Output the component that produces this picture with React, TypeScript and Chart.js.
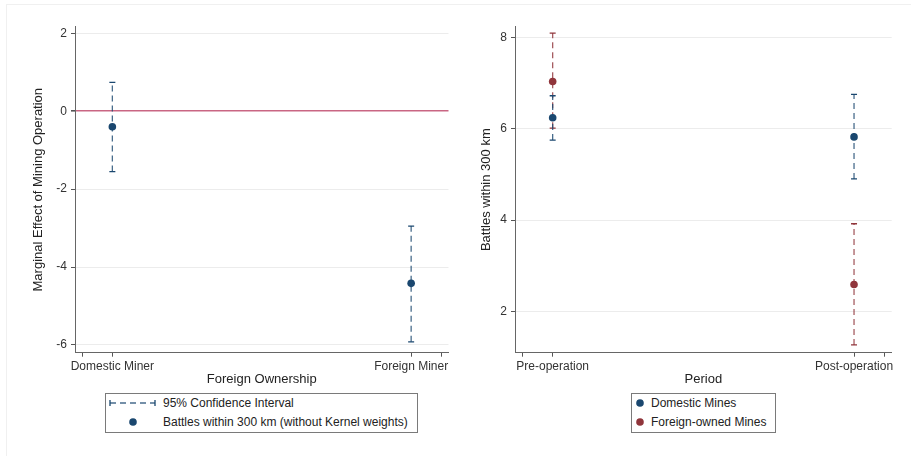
import React, { useEffect, useRef } from 'react';
import { Chart, registerables } from 'chart.js';

Chart.register(...registerables);

const FONT = '"Liberation Sans", Arial, Helvetica, sans-serif';
const NAVY = '#1a476f';
const NAVY_LINE = 'rgba(26,71,111,0.8)';
const MAROON = '#90353b';
const MAROON_LINE = 'rgba(144,53,59,0.8)';
const ZERO_LINE = '#c96683';

// ---- Left panel data ----
const leftCategories = ['Domestic Miner', 'Foreign Miner'];
const leftPositions = [0, 1];
const leftEstimates = [-0.4, -4.42];
const leftLower = [-1.55, -5.92];
const leftUpper = [0.74, -2.95];
const leftYTicks = [-6, -4, -2, 0, 2];
const leftXTicks = [-0.1, 0, 1, 1.1];

// ---- Right panel data ----
const rightCategories = ['Pre-operation', 'Post-operation'];
const rightPositions = [0, 1];
const domesticEstimates = [6.24, 5.82];
const domesticLower = [5.75, 4.9];
const domesticUpper = [6.72, 6.75];
const foreignEstimates = [7.03, 2.59];
const foreignLower = [6.01, 1.27];
const foreignUpper = [8.09, 3.92];
const rightYTicks = [2, 4, 6, 8];
const rightXTicks = [-0.1, 0, 1, 1.1];

function ciDatasets(positions: number[], lower: number[], upper: number[], lineColor: string, capColor: string) {
  return positions.map((x, i) => ({
    type: 'scatter' as const,
    showLine: true,
    data: [
      { x, y: lower[i] },
      { x, y: upper[i] },
    ],
    borderColor: lineColor,
    borderWidth: 1.3,
    borderDash: [6, 4],
    pointStyle: 'line' as const,
    pointRadius: 3,
    pointBorderColor: capColor,
    pointBorderWidth: 1.3,
    pointBackgroundColor: capColor,
    order: 2,
  }));
}

function pointDataset(positions: number[], est: number[], color: string) {
  return {
    type: 'scatter' as const,
    showLine: false,
    data: positions.map((x, i) => ({ x, y: est[i] })),
    pointRadius: 3.8,
    pointBackgroundColor: color,
    pointBorderColor: color,
    pointBorderWidth: 0,
    order: 0,
  };
}

function makeOptions(p: {
  categories: string[];
  positions: number[];
  xTicks: number[];
  yTicks: number[];
  yMin: number;
  yMax: number;
  xTitle: string;
  yTitle: string;
  yAxisWidth: number;
  xAxisHeight: number;
  yTitlePad: number;
  padding: { top: number; right: number; left: number; bottom: number };
  zeroLine: boolean;
}) {
  return {
    responsive: false,
    animation: false as const,
    events: [] as any[],
    layout: { padding: p.padding },
    plugins: { legend: { display: false }, tooltip: { enabled: false } },
    scales: {
      x: {
        type: 'linear' as const,
        min: -0.125,
        max: 1.125,
        afterBuildTicks: (s: any) => {
          s.ticks = p.xTicks.map((v) => ({ value: v }));
        },
        afterFit: (s: any) => {
          s.height = p.xAxisHeight;
        },
        ticks: {
          autoSkip: false,
          maxRotation: 0,
          padding: 3,
          color: '#333',
          font: { size: 12, family: FONT },
          callback: (v: any) => {
            const i = p.positions.indexOf(Number(v));
            return i >= 0 ? p.categories[i] : '';
          },
        },
        grid: { drawOnChartArea: false, tickLength: 4, tickColor: '#555', color: '#555' },
        border: { color: '#666', width: 1 },
        title: {
          display: true,
          text: p.xTitle,
          color: '#222',
          font: { size: 13, family: FONT },
          padding: { top: 0, bottom: 3.2 },
        },
      },
      y: {
        type: 'linear' as const,
        min: p.yMin,
        max: p.yMax,
        afterBuildTicks: (s: any) => {
          s.ticks = p.yTicks.map((v) => ({ value: v }));
        },
        afterFit: (s: any) => {
          s.width = p.yAxisWidth;
        },
        ticks: {
          padding: 4,
          color: '#333',
          font: { size: 12, family: FONT },
        },
        grid: {
          tickLength: 4,
          tickColor: '#555',
          color: (ctx: any) => (p.zeroLine && ctx.tick && ctx.tick.value === 0 ? ZERO_LINE : '#ececec'),
          lineWidth: (ctx: any) => (p.zeroLine && ctx.tick && ctx.tick.value === 0 ? 1.6 : 1),
        },
        border: { color: '#666', width: 1 },
        title: {
          display: true,
          text: p.yTitle,
          color: '#222',
          font: { size: 13, family: FONT },
          padding: { top: p.yTitlePad, bottom: 0 },
        },
      },
    },
  };
}

function LeftChart() {
  const ref = useRef<HTMLCanvasElement | null>(null);
  useEffect(() => {
    if (!ref.current) return;
    const chart = new Chart(ref.current, {
      type: 'scatter',
      data: {
        datasets: [
          pointDataset(leftPositions, leftEstimates, NAVY),
          ...ciDatasets(leftPositions, leftLower, leftUpper, NAVY_LINE, NAVY),
        ] as any,
      },
      options: makeOptions({
        categories: leftCategories,
        positions: leftPositions,
        xTicks: leftXTicks,
        yTicks: leftYTicks,
        yMin: -6.2,
        yMax: 2.17,
        xTitle: 'Foreign Ownership',
        yTitle: 'Marginal Effect of Mining Operation',
        yAxisWidth: 75,
        xAxisHeight: 37.3,
        yTitlePad: 30.7,
        padding: { top: 26.7, right: 6.5, left: 0, bottom: 0 },
        zeroLine: true,
      }) as any,
    });
    return () => chart.destroy();
  }, []);
  return (
    <canvas
      ref={ref}
      width={455}
      height={390}
      style={{ position: 'absolute', left: 0, top: 0, width: 455, height: 390 }}
    />
  );
}

function RightChart() {
  const ref = useRef<HTMLCanvasElement | null>(null);
  useEffect(() => {
    if (!ref.current) return;
    const chart = new Chart(ref.current, {
      type: 'scatter',
      data: {
        datasets: [
          pointDataset(rightPositions, domesticEstimates, NAVY),
          pointDataset(rightPositions, foreignEstimates, MAROON),
          ...ciDatasets(rightPositions, domesticLower, domesticUpper, NAVY_LINE, NAVY),
          ...ciDatasets(rightPositions, foreignLower, foreignUpper, MAROON_LINE, MAROON),
        ] as any,
      },
      options: makeOptions({
        categories: rightCategories,
        positions: rightPositions,
        xTicks: rightXTicks,
        yTicks: rightYTicks,
        yMin: 1.1,
        yMax: 8.23,
        xTitle: 'Period',
        yTitle: 'Battles within 300 km',
        yAxisWidth: 60,
        xAxisHeight: 37.3,
        yTitlePad: 23.2,
        padding: { top: 26.7, right: 19.3, left: 0, bottom: 0 },
        zeroLine: false,
      }) as any,
    });
    return () => chart.destroy();
  }, []);
  return (
    <canvas
      ref={ref}
      width={456}
      height={390}
      style={{ position: 'absolute', left: 455, top: 0, width: 456, height: 390 }}
    />
  );
}

const textStyle: React.CSSProperties = {
  position: 'absolute',
  fontFamily: FONT,
  fontSize: 12,
  lineHeight: '14px',
  color: '#222',
  whiteSpace: 'nowrap',
};

function LeftLegend() {
  return (
    <div
      style={{
        position: 'absolute',
        left: 105,
        top: 393,
        width: 313,
        height: 40,
        boxSizing: 'border-box',
        border: '1px solid #7a7a7a',
        background: '#fff',
      }}
    >
      <svg width={50} height={12} style={{ position: 'absolute', left: 3, top: 3 }}>
        <line x1={1} y1={6} x2={46} y2={6} stroke={NAVY_LINE} strokeWidth={1.3} strokeDasharray="6 4" />
        <line x1={1} y1={3} x2={1} y2={9} stroke={NAVY} strokeWidth={1.3} />
        <line x1={46} y1={3} x2={46} y2={9} stroke={NAVY} strokeWidth={1.3} />
      </svg>
      <div style={{ ...textStyle, left: 57, top: 2 }}>95% Confidence Interval</div>
      <svg width={10} height={10} style={{ position: 'absolute', left: 22, top: 23 }}>
        <circle cx={5} cy={5} r={3.8} fill={NAVY} />
      </svg>
      <div style={{ ...textStyle, left: 57, top: 21 }}>Battles within 300 km (without Kernel weights)</div>
    </div>
  );
}

function RightLegend() {
  return (
    <div
      style={{
        position: 'absolute',
        left: 631,
        top: 393,
        width: 145,
        height: 40,
        boxSizing: 'border-box',
        border: '1px solid #7a7a7a',
        background: '#fff',
      }}
    >
      <svg width={10} height={10} style={{ position: 'absolute', left: 2.5, top: 4 }}>
        <circle cx={5} cy={5} r={3.8} fill={NAVY} />
      </svg>
      <div style={{ ...textStyle, left: 19, top: 2 }}>Domestic Mines</div>
      <svg width={10} height={10} style={{ position: 'absolute', left: 2.5, top: 23 }}>
        <circle cx={5} cy={5} r={3.8} fill={MAROON} />
      </svg>
      <div style={{ ...textStyle, left: 19, top: 21 }}>Foreign-owned Mines</div>
    </div>
  );
}

export default function App() {
  useEffect(() => {
    Chart.defaults.font.family = FONT;
  }, []);
  Chart.defaults.font.family = FONT;
  return (
    <div
      style={{
        position: 'absolute',
        left: 0,
        top: 0,
        width: 911,
        height: 456,
        background: '#fff',
        overflow: 'hidden',
      }}
    >
      <div
        style={{
          position: 'absolute',
          left: 6,
          top: 4,
          width: 910,
          height: 460,
          border: '1px solid #f0f0f0',
          boxSizing: 'border-box',
        }}
      />
      <LeftChart />
      <RightChart />
      <LeftLegend />
      <RightLegend />
    </div>
  );
}
